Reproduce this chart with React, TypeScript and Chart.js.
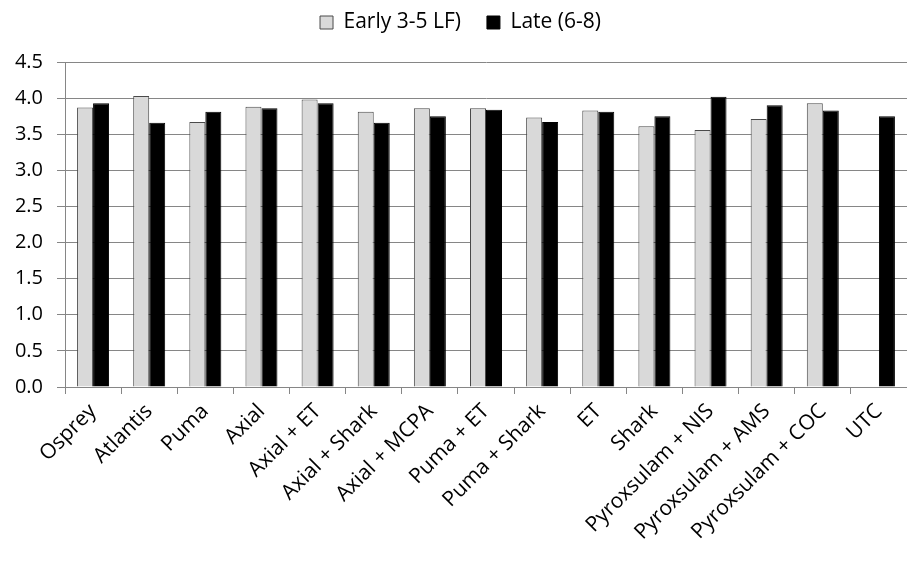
import React, { useEffect, useRef } from "react";
import { Chart, registerables } from "chart.js";

Chart.register(...registerables);

const categories = [
  "Osprey",
  "Atlantis",
  "Puma",
  "Axial",
  "Axial + ET",
  "Axial + Shark",
  "Axial + MCPA",
  "Puma + ET",
  "Puma + Shark",
  "ET",
  "Shark",
  "Pyroxsulam + NIS",
  "Pyroxsulam + AMS",
  "Pyroxsulam + COC",
  "UTC",
];

const earlyLabel = "Early 3-5 LF)";
const lateLabel = "Late (6-8)";

const earlyValues: (number | null)[] = [
  3.87, 4.03, 3.67, 3.88, 3.98, 3.81, 3.86, 3.86, 3.73, 3.83, 3.61, 3.56, 3.71, 3.93, null,
];
const lateValues: (number | null)[] = [
  3.93, 3.66, 3.81, 3.86, 3.93, 3.66, 3.75, 3.84, 3.67, 3.81, 3.75, 4.02, 3.9, 3.83, 3.75,
];

const yMin = 0;
const yMax = 4.5;
const yStep = 0.5;

const FONT = "'Open Sans', 'DejaVu Sans', sans-serif";

const LEGEND_PAD = 26;
const LEGEND_HEIGHT = 58;
const LEGEND_SHIFT_Y = 18;
const LEGEND_SHIFT_X = 7;

const legendTweak = {
  id: "legendTweak",
  afterInit(chart: any) {
    const lg = chart.legend;
    if (!lg) return;
    const orig = lg.fit.bind(lg);
    lg.fit = () => {
      orig();
      lg.height = LEGEND_HEIGHT;
    };
  },
  afterLayout(chart: any) {
    const lg = chart.legend;
    if (!lg) return;
    lg.top -= LEGEND_SHIFT_Y;
    lg.bottom -= LEGEND_SHIFT_Y;
    lg.left += LEGEND_SHIFT_X;
    lg.right += LEGEND_SHIFT_X;
  },
};

export default function App() {
  const ref = useRef<HTMLCanvasElement | null>(null);

  useEffect(() => {
    if (!ref.current) return;
    const chart = new Chart(ref.current, {
      type: "bar",
      data: {
        labels: categories,
        datasets: [
          {
            label: earlyLabel,
            data: earlyValues,
            backgroundColor: "#d9d9d9",
            borderColor: "#4a4a4a",
            borderWidth: 1,
            borderSkipped: "bottom",
            barPercentage: 1,
            categoryPercentage: 0.57,
          },
          {
            label: lateLabel,
            data: lateValues,
            backgroundColor: "#000000",
            borderColor: "#000000",
            borderWidth: 1,
            borderSkipped: "bottom",
            barPercentage: 1,
            categoryPercentage: 0.57,
          },
        ],
      },
      plugins: [legendTweak],
      options: {
        animation: false,
        responsive: false,
        maintainAspectRatio: false,
        layout: { padding: { top: 4, right: 0, left: 0, bottom: 0 } },
        plugins: {
          tooltip: { enabled: false },
          legend: {
            position: "top",
            labels: {
              boxWidth: 13,
              boxHeight: 13,
              color: "#000",
              font: { family: FONT, size: 21 },
              padding: LEGEND_PAD,
            },
          },
        },
        scales: {
          x: {
            offset: true,
            grid: {
              display: true,
              offset: true,
              drawOnChartArea: false,
              drawTicks: true,
              tickLength: 7,
              color: "#868686",
            },
            border: { display: true, color: "#868686" },
            ticks: {
              autoSkip: false,
              maxRotation: 45,
              minRotation: 45,
              color: "#000",
              padding: 5,
              font: { family: FONT, size: 21 },
            },
            afterFit: (scale: any) => {
              scale.height = 180;
            },
          },
          y: {
            min: yMin,
            max: yMax,
            ticks: {
              stepSize: yStep,
              color: "#000",
              padding: 14,
              font: { family: FONT, size: 20 },
              callback: (v: any) => Number(v).toFixed(1),
            },
            grid: {
              color: "#868686",
              tickLength: 8,
            },
            border: { display: true, color: "#868686" },
            afterFit: (scale: any) => {
              scale.width = 65;
            },
          },
        },
      },
    });
    return () => chart.destroy();
  }, []);

  return (
    <div style={{ position: "fixed", left: 0, top: 0, width: 907, height: 567, background: "#fff" }}>
      <canvas ref={ref} width={907} height={567} style={{ display: "block" }} />
    </div>
  );
}
